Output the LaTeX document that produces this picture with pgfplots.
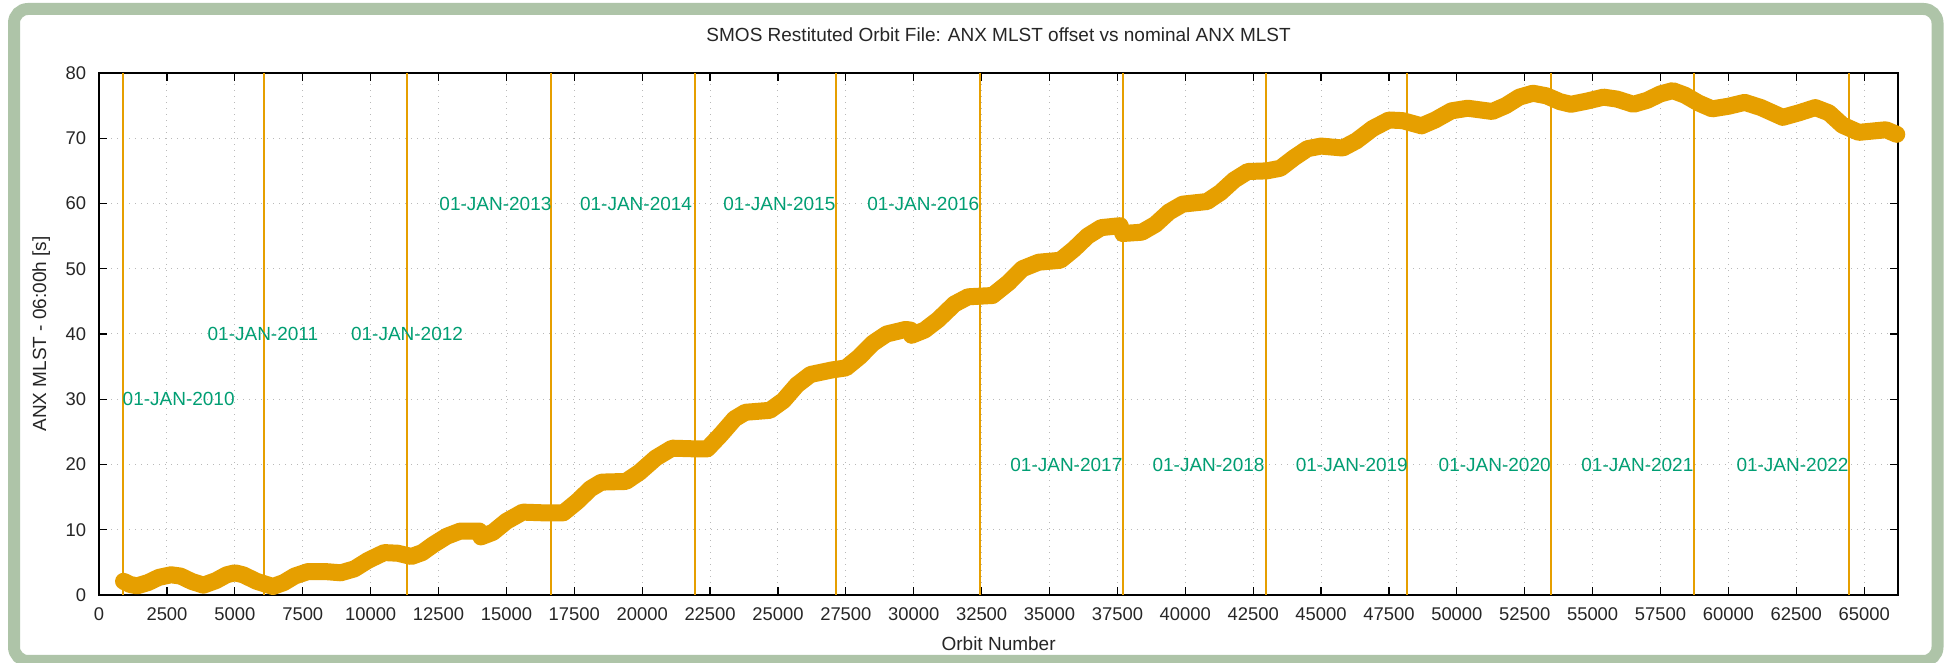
\documentclass[border=0pt]{standalone}
\usepackage{fontspec}
\setmainfont{Liberation Sans}
\usepackage{pgfplots}
\pgfplotsset{compat=1.18}
\definecolor{lineor}{HTML}{E69F00}
\definecolor{labgr}{HTML}{009E73}
\definecolor{framec}{RGB}{174,196,168}

\begin{document}
\begin{tikzpicture}
\useasboundingbox (0,0) rectangle (972.5pt,331.5pt);
\fill[white] (0,0) rectangle (972.5pt,331.5pt);
\draw[framec, line width=6pt, rounded corners=7pt] (7pt,1pt) rectangle (968.75pt,327pt);
\begin{axis}[
  at={(49.55pt,34pt)}, anchor=south west,
  scale only axis, width=899.5pt, height=261pt,
  xmin=0, xmax=66250, ymin=0, ymax=80,
  xtick={0,2500,...,65000}, ytick={0,10,...,80},
  scaled x ticks=false,
  /pgf/number format/assume math mode=true,
  x tick label style={/pgf/number format/1000 sep={}, yshift=-3pt},
  y tick label style={xshift=-3pt},
  tick align=inside, major tick length=4pt,
  tick style={black, line width=0.6pt},
  axis line style={black, line width=0.8pt},
  grid=major,
  grid style={gray!55, line width=0.5pt, dash pattern=on 0.5pt off 2.5pt},
  ticklabel style={font=\fontsize{9.2}{11}\selectfont, text=black!85},
  title={SMOS Restituted Orbit File: ANX MLST offset vs nominal ANX MLST},
  title style={at={(axis description cs:0.5,1.0498)}, anchor=center, font=\fontsize{9.5}{11}\selectfont, text=black!85},
  xlabel={Orbit Number},
  xlabel style={at={(axis description cs:0.5,-0.0939)}, anchor=center, font=\fontsize{9.5}{11}\selectfont, text=black!85},
  ylabel={ANX MLST - 06:00h [s]},
  ylabel style={at={(axis description cs:-0.0322,0.5)}, anchor=center, font=\fontsize{9.5}{11}\selectfont, text=black!85},
  clip=false,
]
\addplot[ycomb, lineor, line width=1pt, mark=none] coordinates {
(887,80) (6083,80) (11350,80) (16640,80) (21935,80) (27127,80) (32430,80)
(37710,80) (42978,80) (48164,80) (53467,80) (58750,80) (64444,80)
};
\addplot[lineor, line width=8.5pt, line join=round, line cap=round, mark=none] coordinates {
(900,2.1) (1150,1.6) (1400,1.4) (1800,1.9) (2200,2.7) (2650,3.1) (3000,2.9)
(3400,2.1) (3840,1.5) (4300,2.2) (4700,3.1) (5000,3.4) (5300,3.1) (5800,2.1)
(6400,1.3) (6800,1.9) (7200,2.9) (7700,3.6) (8300,3.6) (8900,3.4) (9400,4.0)
(9900,5.3) (10500,6.5) (11000,6.4) (11500,5.9) (11900,6.5) (12300,7.7) (12800,9.0)
(13300,9.8) (14000,9.8) (14060,8.9) (14500,9.6) (15000,11.3) (15600,12.7) (16300,12.6)
(17100,12.6) (17600,14.3) (18100,16.3) (18500,17.3) (19400,17.4) (19900,18.8) (20500,21.0)
(21100,22.5) (21900,22.4) (22400,22.4) (22900,24.6) (23400,27.0) (23800,28.0) (24700,28.3)
(25200,29.8) (25700,32.2) (26200,33.8) (27000,34.5) (27500,34.8) (28000,36.5) (28500,38.6)
(29000,40.0) (29700,40.7) (29880,40.6) (29920,39.8) (30400,40.6) (30900,42.2) (31500,44.6)
(32000,45.7) (32900,45.9) (33500,47.9) (34000,50.0) (34600,51.0) (35400,51.3) (35900,53.0)
(36400,55.0) (36900,56.3) (37600,56.6) (37700,55.4) (38400,55.6) (38900,56.8) (39400,58.7)
(39900,59.9) (40800,60.3) (41300,61.7) (41800,63.6) (42300,64.9) (43000,65.0) (43500,65.4)
(44000,67.0) (44500,68.4) (45000,68.8) (45800,68.5) (46300,69.6) (46900,71.5) (47500,72.8)
(48000,72.7) (48700,71.9) (49200,72.8) (49800,74.2) (50400,74.6) (51300,74.1) (51800,75.0)
(52300,76.3) (52800,76.9) (53300,76.5) (53800,75.6) (54200,75.2) (54800,75.7) (55400,76.3)
(55900,76.0) (56500,75.2) (57000,75.8) (57500,76.8) (57950,77.3) (58400,76.6) (58900,75.4)
(59400,74.5) (60000,74.9) (60600,75.5) (61200,74.7) (62000,73.2) (62600,73.9) (63200,74.7)
(63700,73.9) (64200,72.0) (64800,70.9) (65300,71.1) (65800,71.3) (66200,70.6)
};
\begin{scope}[every node/.style={text=labgr, font=\fontsize{9.5}{11}\selectfont, anchor=center, inner sep=0pt}]
\node at (axis cs:2930,30) {01-JAN-2010};
\node at (axis cs:6032,40) {01-JAN-2011};
\node at (axis cs:11340,40) {01-JAN-2012};
\node at (axis cs:14595,60) {01-JAN-2013};
\node at (axis cs:19775,60) {01-JAN-2014};
\node at (axis cs:25051,60) {01-JAN-2015};
\node at (axis cs:30350,60) {01-JAN-2016};
\node at (axis cs:35620,20) {01-JAN-2017};
\node at (axis cs:40855,20) {01-JAN-2018};
\node at (axis cs:46132,20) {01-JAN-2019};
\node at (axis cs:51393,20) {01-JAN-2020};
\node at (axis cs:56648,20) {01-JAN-2021};
\node at (axis cs:62360,20) {01-JAN-2022};
\end{scope}
\end{axis}
\end{tikzpicture}
\end{document}
